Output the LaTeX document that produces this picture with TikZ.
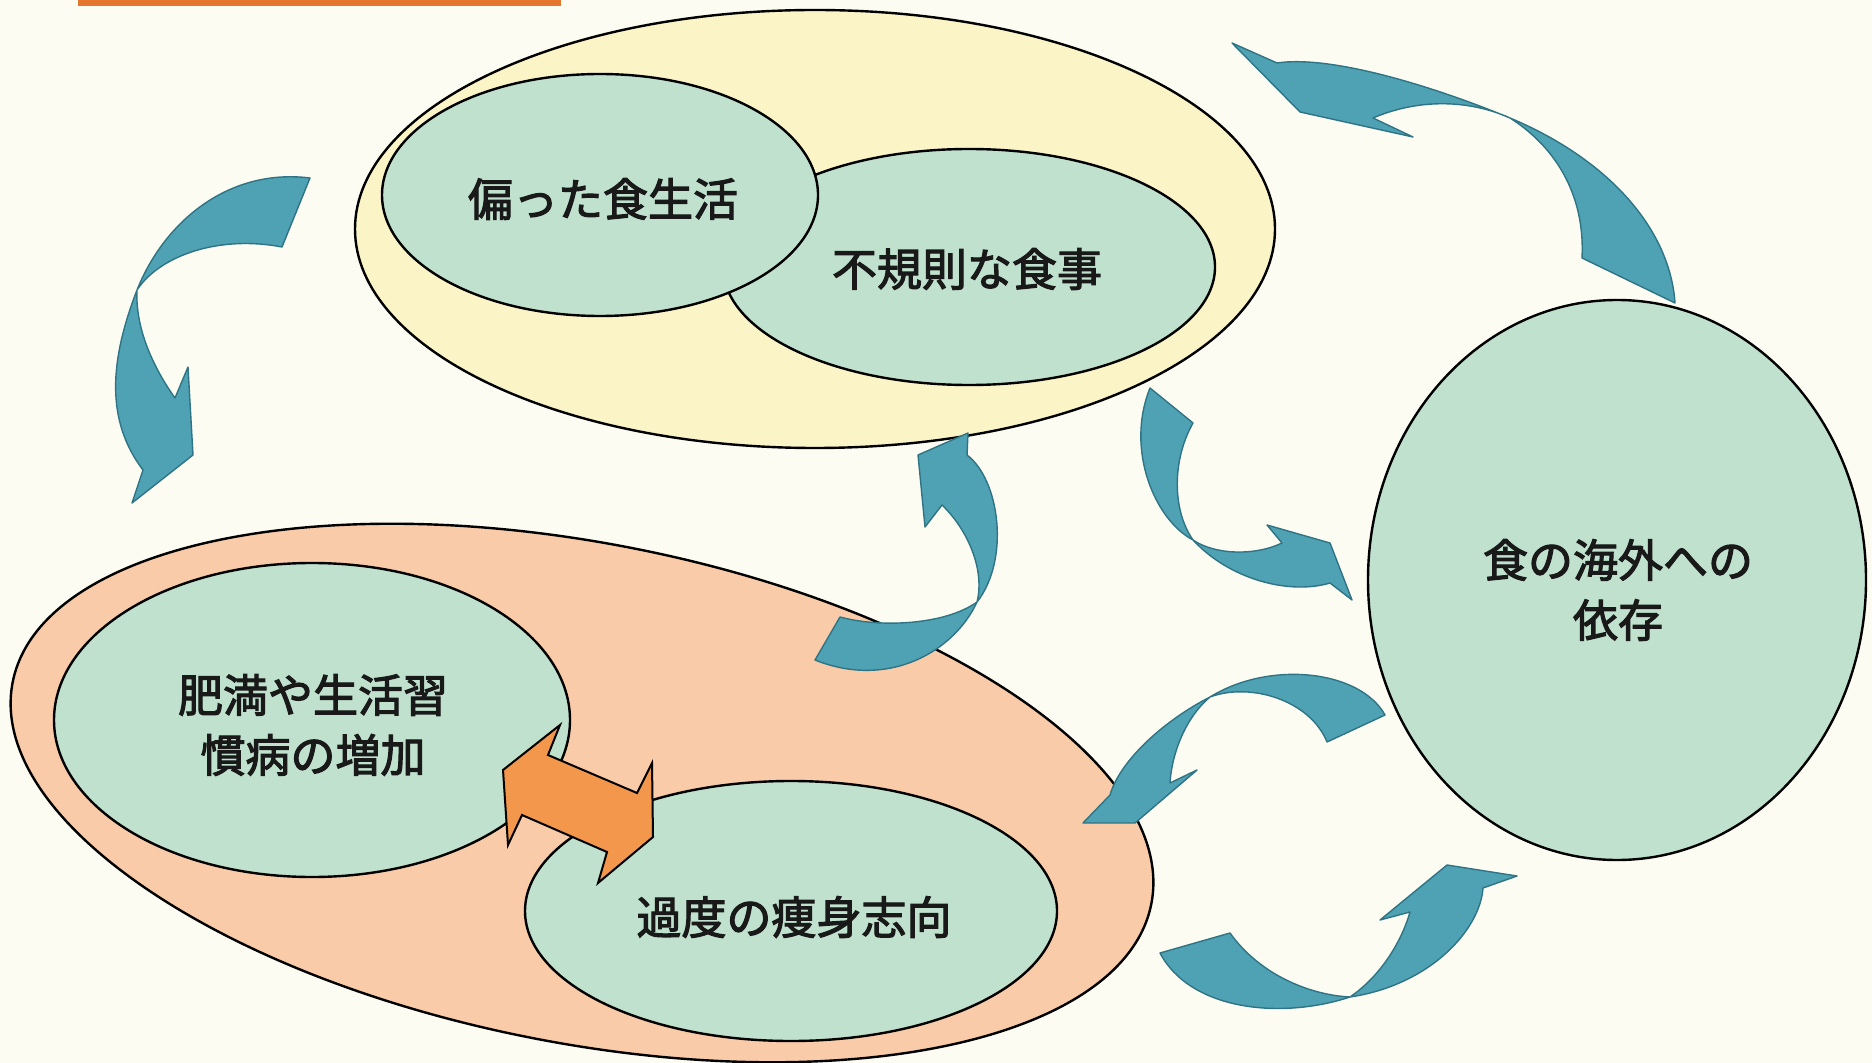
\documentclass[tikz,border=0pt]{standalone}
\usepackage{fontspec}
\usetikzlibrary{shapes.geometric}
\newfontfamily\cjk[FakeBold=2.5]{Noto Sans CJK JP}
\definecolor{bgc}{HTML}{FDFCF3}
\definecolor{yellowc}{HTML}{FBF4C6}
\definecolor{salmonc}{HTML}{F9CBA8}
\definecolor{greenc}{HTML}{BFE1CD}
\definecolor{tealc}{HTML}{4FA2B3}
\definecolor{tealline}{HTML}{2E7484}
\definecolor{orangec}{HTML}{F2974C}
\definecolor{barc}{HTML}{E4762F}
\tikzset{
  oval/.style={ellipse, draw=black, line width=1.2pt, inner sep=0pt},
  greenoval/.style={oval, fill=greenc},
  label/.style={font=\cjk\fontsize{22.5}{30}\selectfont, align=center, text=black!90},
  ribbon/.style={fill=tealc, draw=tealline, line width=0.7pt, line join=round},
  dblarrow/.style={fill=orangec, draw=black, line width=1pt, line join=miter}
}
\begin{document}
\begin{tikzpicture}[x=0.5pt,y=-0.5pt]
\useasboundingbox (0,0) rectangle (1872,1063);
\fill[bgc] (0,0) rectangle (1872,1063);
\fill[barc] (78,0) rectangle (561,6);

% top group
\node[oval, fill=yellowc, minimum width=460pt, minimum height=219pt] (yel) at (815,229) {};
\node[greenoval, minimum width=246pt, minimum height=118pt] (irreg) at (969,267) {};
\node[greenoval, minimum width=218pt, minimum height=121pt] (biased) at (600,195) {};
\node[label] (tbiased) at (603,199) {偏った食生活};
\node[label] (tirreg) at (967,269) {不規則な食事};

% bottom-left group
\node[oval, fill=salmonc, rotate=-11, minimum width=580pt, minimum height=250pt] (sal) at (582,793) {};
\node[greenoval, minimum width=258pt, minimum height=157pt] (obese) at (312,720) {};
\node[greenoval, minimum width=266pt, minimum height=130pt] (thin) at (791,911) {};
\node[label] (tobese) at (313,725) {肥満や生活習\\慣病の増加};
\node[label] (tthin) at (794,917) {過度の痩身志向};

% right
\node[greenoval, minimum width=249pt, minimum height=280pt] (abroad) at (1617,580) {};
\node[label] (tabroad) at (1618,590) {食の海外への\\依存};

% curved ribbon arrows
\draw[ribbon] (310,178) .. controls (230,168) and (165,220) .. (137,290)
  .. controls (110,360) and (105,420) .. (143,470) -- (132,503) -- (193,455) -- (188,367) -- (175,398)
  .. controls (155,370) and (135,330) .. (137,290)
  .. controls (160,255) and (220,235) .. (282,247) -- cycle;

\draw[ribbon] (1582,258) -- (1675,303) .. controls (1670,230) and (1610,160) .. (1510,118)
  .. controls (1430,85) and (1330,55) .. (1277,63) -- (1232,43) -- (1300,112) -- (1413,137) -- (1373,118)
  .. controls (1420,98) and (1470,100) .. (1510,118)
  .. controls (1560,150) and (1585,200) .. (1582,258) -- cycle;

\draw[ribbon] (1150,388) -- (1193,423) .. controls (1172,460) and (1172,510) .. (1193,540)
  .. controls (1215,555) and (1255,556) .. (1282,543) -- (1267,525) -- (1330,543) -- (1352,600) -- (1330,583)
  .. controls (1290,595) and (1230,580) .. (1193,540)
  .. controls (1155,520) and (1125,450) .. (1150,388) -- cycle;

\draw[ribbon] (815,660) -- (840,617) .. controls (880,628) and (945,625) .. (977,602)
  .. controls (985,570) and (968,530) .. (942,505) -- (925,527) -- (918,455) -- (968,433) -- (967,455)
  .. controls (1000,480) and (1010,560) .. (977,602)
  .. controls (955,650) and (890,690) .. (815,660) -- cycle;

\draw[ribbon] (1327,742) -- (1385,715) .. controls (1360,670) and (1270,660) .. (1210,697)
  .. controls (1165,720) and (1120,760) .. (1110,795) -- (1083,823) -- (1135,823) -- (1197,770) -- (1170,783)
  .. controls (1172,750) and (1188,715) .. (1210,697)
  .. controls (1250,682) and (1310,700) .. (1327,742) -- cycle;

\draw[ribbon] (1160,953) -- (1230,933) .. controls (1260,975) and (1310,995) .. (1350,997)
  .. controls (1382,975) and (1402,940) .. (1410,912) -- (1380,920) -- (1447,865) -- (1517,876) -- (1483,888)
  .. controls (1480,930) and (1430,985) .. (1350,997)
  .. controls (1280,1020) and (1190,1010) .. (1160,953) -- cycle;

% orange double arrow between obese and thin
\draw[dblarrow] (503,770) -- (560,725) -- (548,755) -- (637,793) -- (652,763) -- (653,837)
  -- (598,883) -- (607,852) -- (522,815) -- (508,845) -- cycle;
\end{tikzpicture}
\end{document}
